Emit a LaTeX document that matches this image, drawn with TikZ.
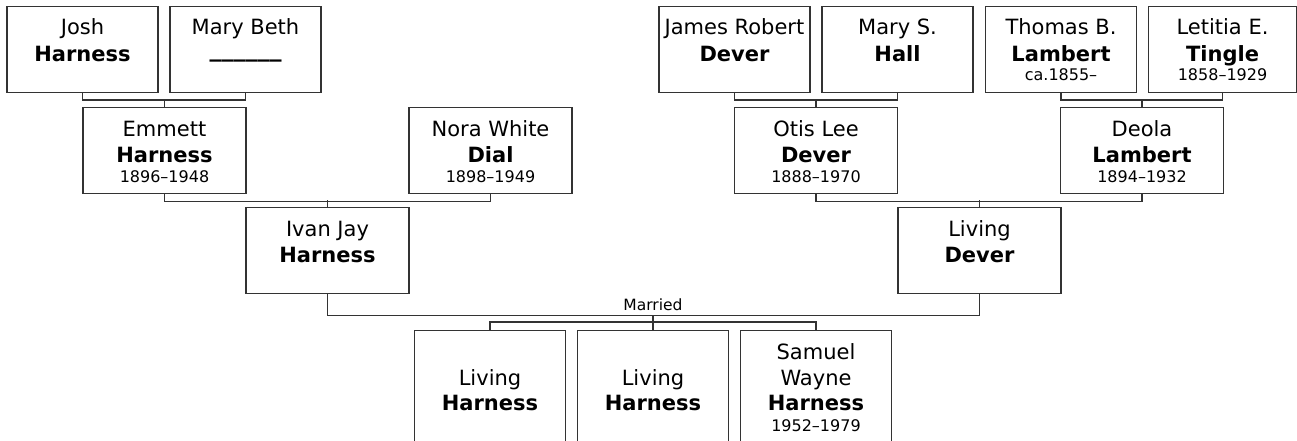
\documentclass[tikz,border=0pt]{standalone}
\usepackage{fontspec}
\setmainfont{DejaVu Sans}
\usetikzlibrary{calc}
\begin{document}
\begin{tikzpicture}[x=1pt,y=-1pt,
  box/.style={draw=black!80, line width=1.3pt, fill=white, inner sep=0pt},
  narrow/.style={box, minimum width=151pt, minimum height=86pt},
  wide/.style={box, minimum width=163pt, minimum height=86pt},
  conn/.style={draw=black!80, line width=1.3pt},
  nm/.style={anchor=base, inner sep=0pt, font=\fontsize{21}{25}\selectfont},
  sn/.style={anchor=base, inner sep=0pt, font=\fontsize{21}{25}\selectfont\bfseries},
  dt/.style={anchor=base, inner sep=0pt, font=\fontsize{16}{19}\selectfont},
  lbl/.style={anchor=base, inner sep=0pt, font=\fontsize{15.5}{18}\selectfont}]
\useasboundingbox (0,0) rectangle (1297,441);
\clip (0,0) rectangle (1297,441);
\fill[white] (0,0) rectangle (1297,441);

% generation 1
\node[narrow] (josh) at (82.5,49.5) {};
\node[narrow] (mb) at (245.5,49.5) {};
\node[narrow] (james) at (734.5,49.5) {};
\node[narrow] (marys) at (897.5,49.5) {};
\node[narrow] (thomas) at (1061,49.5) {};
\node[narrow, minimum width=148pt] (letitia) at (1222.5,49.5) {};

% generation 2
\node[wide] (emmett) at (164.5,150.5) {};
\node[wide] (nora) at (490.5,150.5) {};
\node[wide] (otis) at (816,150.5) {};
\node[wide] (deola) at (1142,150.5) {};

% generation 3
\node[wide] (ivan) at (327.5,250.5) {};
\node[wide] (dever) at (979.5,250.5) {};

% children
\node[narrow, minimum height=140pt] (l1) at (490,400.5) {};
\node[narrow, minimum height=140pt] (l2) at (653,400.5) {};
\node[narrow, minimum height=140pt] (sam) at (816,400.5) {};

% connectors
\draw[conn] (josh.south) -- ++(0,7) -| (mb.south);
\draw[conn] (emmett.north) -- ++(0,-8);
\draw[conn] (james.south) -- ++(0,7) -| (marys.south);
\draw[conn] (otis.north) -- ++(0,-8);
\draw[conn] (thomas.south) -- ++(0,7) -| (letitia.south);
\draw[conn] (deola.north) -- ++(0,-8);
\draw[conn] (emmett.south) -- ++(0,7) -| (nora.south);
\draw[conn] (ivan.north) -- ++(0,-7);
\draw[conn] (otis.south) -- ++(0,7) -| (deola.south);
\draw[conn] (dever.north) -- ++(0,-7);
\draw[conn] (ivan.south) -- ++(0,21) coordinate (ml) -| (dever.south);
\coordinate (mc) at (l2.north |- ml);
\draw[conn] (mc) -- (l2.north);
\draw[conn] (l1.north) -- ++(0,-8) -| (sam.north);
\node[lbl] (married) at (653,310.5) {Married};

% texts generation 1
\node[nm] (joshA) at (82.5,35) {Josh};
\node[sn] (joshB) at (82.5,61.7) {Harness};
\node[nm] (mbA) at (245.5,35) {Mary Beth};
\node[sn] (mbB) at (245.5,57) {\fontsize{24}{28}\selectfont\_\_\_\_\_\_};
\node[nm] (jamesA) at (734.5,35) {James Robert};
\node[sn] (jamesB) at (734.5,61.7) {Dever};
\node[nm] (marysA) at (897.5,35) {Mary S.};
\node[sn] (marysB) at (897.5,61.7) {Hall};
\node[nm] (thomasA) at (1061,35) {Thomas B.};
\node[sn] (thomasB) at (1061,61.7) {Lambert};
\node[dt] (thomasC) at (1061,81) {ca.1855–};
\node[nm] (letitiaA) at (1222.5,35) {Letitia E.};
\node[sn] (letitiaB) at (1222.5,61.7) {Tingle};
\node[dt] (letitiaC) at (1222.5,81) {1858–1929};

% texts generation 2
\node[nm] (emmettA) at (164.5,136) {Emmett};
\node[sn] (emmettB) at (164.5,162.7) {Harness};
\node[dt] (emmettC) at (164.5,182.7) {1896–1948};
\node[nm] (noraA) at (490.5,136) {Nora White};
\node[sn] (noraB) at (490.5,162.7) {Dial};
\node[dt] (noraC) at (490.5,182.7) {1898–1949};
\node[nm] (otisA) at (816,136) {Otis Lee};
\node[sn] (otisB) at (816,162.7) {Dever};
\node[dt] (otisC) at (816,182.7) {1888–1970};
\node[nm] (deolaA) at (1142,136) {Deola};
\node[sn] (deolaB) at (1142,162.7) {Lambert};
\node[dt] (deolaC) at (1142,182.7) {1894–1932};

% texts generation 3
\node[nm] (ivanA) at (327.5,236.7) {Ivan Jay};
\node[sn] (ivanB) at (327.5,262.7) {Harness};
\node[nm] (deverA) at (979.5,236.7) {Living};
\node[sn] (deverB) at (979.5,262.7) {Dever};

% texts children
\node[nm] (l1A) at (490,385) {Living};
\node[sn] (l1B) at (490,410) {Harness};
\node[nm] (l2A) at (653,385) {Living};
\node[sn] (l2B) at (653,410) {Harness};
\node[nm] (samA) at (816,359) {Samuel};
\node[nm] (samB) at (816,385) {Wayne};
\node[sn] (samC) at (816,410) {Harness};
\node[dt] (samD) at (816,431.7) {1952–1979};
\end{tikzpicture}
\end{document}
